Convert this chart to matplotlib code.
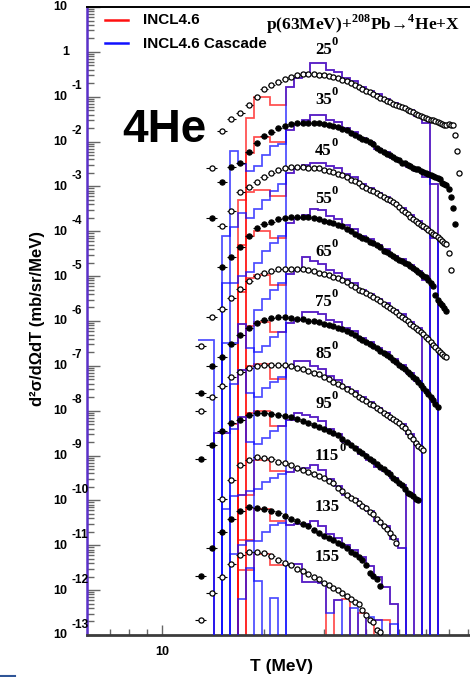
import numpy as np
import matplotlib
matplotlib.use("Agg")
import matplotlib.pyplot as plt
from matplotlib.ticker import LogLocator, NullFormatter
from matplotlib.lines import Line2D

# ---------------------------------------------------------------- data
angles = [25, 35, 45, 55, 65, 75, 85, 95, 115, 135, 155]
open_marker = [True, False, True, False, True, False, True, False, True, False, True]

# measured spectra: first energy (MeV), then log10(d2sigma) at 1 MeV steps (already scaled per angle)
start_25 = 14
data_25 = [-2.59, -1.76, -1.50, -1.36, -1.18, -1.01, -0.83, -0.74, -0.67, -0.61, -0.56, -0.52, -0.50,
           -0.49, -0.49, -0.51, -0.52, -0.54, -0.56, -0.59, -0.62, -0.66, -0.70, -0.74, -0.78, -0.83,
           -0.87, -0.90, -0.93, -0.98, -1.02, -1.06, -1.09, -1.12, -1.16, -1.19, -1.21, -1.23, -1.26,
           -1.29, -1.32, -1.35, -1.38, -1.41, -1.43, -1.45, -1.47, -1.49, -1.51, -1.53, -1.55, -1.57,
           -1.59, -1.61, -1.62, -1.63, -1.61, -1.63, -1.63, -1.85, -2.22, -2.70]
start_35 = 14
data_35 = [-3.71, -2.90, -2.57, -2.48, -2.23, -2.03, -1.88, -1.79, -1.70, -1.65, -1.61, -1.58, -1.58,
           -1.58, -1.58, -1.58, -1.61, -1.63, -1.65, -1.68, -1.71, -1.74, -1.81, -1.86, -1.90, -1.94,
           -1.97, -2.02, -2.06, -2.14, -2.18, -2.23, -2.28, -2.30, -2.34, -2.39, -2.42, -2.47, -2.48,
           -2.52, -2.55, -2.58, -2.61, -2.61, -2.65, -2.68, -2.70, -2.72, -2.74, -2.76, -2.79, -2.81,
           -2.84, -2.92, -2.95, -2.97, -3.05, -3.24, -3.48, -3.84]
start_45 = 15
data_45 = [-3.88, -3.55, -3.12, -3.01, -2.90, -2.79, -2.70, -2.63, -2.59, -2.57, -2.57, -2.57, -2.58,
           -2.59, -2.59, -2.63, -2.66, -2.68, -2.72, -2.75, -2.79, -2.85, -2.89, -2.92, -2.98, -3.03,
           -3.07, -3.10, -3.14, -3.18, -3.23, -3.27, -3.31, -3.35, -3.40, -3.45, -3.53, -3.58, -3.62,
           -3.68, -3.72, -3.76, -3.81, -3.86, -3.89, -3.93, -3.97, -4.01, -4.05, -4.09, -4.13, -4.17,
           -4.21, -4.26, -4.28, -4.48, -4.86]
start_55 = 15
data_55 = [-4.80, -4.57, -4.35, -4.10, -3.93, -3.84, -3.79, -3.72, -3.70, -3.68, -3.68, -3.68, -3.69,
           -3.70, -3.72, -3.76, -3.79, -3.81, -3.86, -3.89, -3.94, -4.00, -4.06, -4.10, -4.15, -4.18,
           -4.23, -4.27, -4.31, -4.36, -4.43, -4.47, -4.51, -4.55, -4.59, -4.63, -4.67, -4.71, -4.74,
           -4.78, -4.82, -4.86, -4.91, -4.95, -4.99, -5.03, -5.09, -5.15, -5.22, -5.42, -5.53, -5.60,
           -5.64, -5.72, -5.78]
start_65 = 13
data_65 = [-6.56, -5.91, -5.73, -5.49, -5.28, -5.11, -5.00, -4.93, -4.88, -4.84, -4.84, -4.84, -4.84,
           -4.84, -4.86, -4.88, -4.93, -4.95, -4.98, -5.02, -5.05, -5.09, -5.14, -5.20, -5.24, -5.30,
           -5.34, -5.38, -5.43, -5.47, -5.51, -5.56, -5.61, -5.66, -5.70, -5.75, -5.80, -5.86, -5.91,
           -5.96, -6.01, -6.07, -6.11, -6.16, -6.21, -6.25, -6.29, -6.36, -6.41, -6.46, -6.53, -6.58,
           -6.64, -6.69, -6.73, -6.78, -6.80]
start_75 = 13
data_75 = [-7.60, -7.00, -6.80, -6.51, -6.31, -6.16, -6.04, -5.98, -5.94, -5.91, -5.91, -5.93, -5.95,
           -5.96, -5.99, -6.01, -6.02, -6.06, -6.09, -6.11, -6.15, -6.18, -6.22, -6.27, -6.31, -6.37,
           -6.42, -6.46, -6.51, -6.56, -6.61, -6.66, -6.71, -6.76, -6.81, -6.86, -6.92, -6.98, -7.03,
           -7.08, -7.13, -7.19, -7.25, -7.30, -7.36, -7.42, -7.50, -7.57, -7.63, -7.70, -7.76, -7.86,
           -7.92]
start_85 = 13
data_85 = [-8.00, -7.69, -7.45, -7.25, -7.14, -7.05, -7.00, -6.98, -6.98, -6.98, -6.98, -7.01, -7.04,
           -7.08, -7.11, -7.15, -7.19, -7.25, -7.30, -7.36, -7.41, -7.46, -7.51, -7.57, -7.63, -7.69,
           -7.73, -7.78, -7.84, -7.88, -7.93, -7.98, -8.04, -8.09, -8.14, -8.19, -8.24, -8.28, -8.33,
           -8.39, -8.47, -8.56, -8.64, -8.72, -8.78, -8.83, -8.87]
start_95 = 13
data_95 = [-9.08, -8.76, -8.45, -8.27, -8.20, -8.09, -8.05, -8.05, -8.07, -8.09, -8.12, -8.14, -8.18,
           -8.23, -8.27, -8.31, -8.36, -8.41, -8.45, -8.50, -8.55, -8.63, -8.70, -8.77, -8.83, -8.89,
           -8.94, -9.02, -9.07, -9.13, -9.19, -9.25, -9.30, -9.36, -9.41, -9.49, -9.55, -9.61, -9.66,
           -9.74, -9.83, -9.86, -9.90, -9.96, -9.99]
start_115 = 15
data_115 = [-9.97, -9.54, -9.21, -9.10, -9.03, -9.05, -9.08, -9.14, -9.16, -9.22, -9.28, -9.33, -9.37,
            -9.41, -9.45, -9.50, -9.56, -9.61, -9.72, -9.80, -9.88, -9.95, -9.99, -10.06, -10.12,
            -10.17, -10.25, -10.30, -10.42, -10.48, -10.57, -10.64, -10.72, -10.81, -10.95]
start_135 = 13
data_135 = [-11.68, -11.06, -10.70, -10.41, -10.23, -10.15, -10.17, -10.19, -10.24, -10.28, -10.35,
            -10.41, -10.46, -10.52, -10.58, -10.65, -10.73, -10.79, -10.84, -10.89, -10.95, -11.00,
            -11.06, -11.14, -11.20, -11.26, -11.33, -11.45, -11.62, -11.68, -11.75, -11.91]
start_155 = 13
data_155 = [-12.66, -12.06, -11.71, -11.42, -11.22, -11.15, -11.15, -11.17, -11.24, -11.33, -11.39,
            -11.45, -11.52, -11.58, -11.64, -11.71, -11.76, -11.83, -11.88, -11.95, -12.00, -12.06,
            -12.12, -12.19, -12.27, -12.31, -12.45, -12.55, -12.66, -12.71, -12.89, -12.93]

# model histograms on logarithmic energy bins (MeV)
bin_edges = [12.77, 13.48, 14.24, 15.03, 15.87, 16.76, 17.69, 18.68, 19.72, 20.82, 21.98, 23.21,
             24.50, 25.87, 27.31, 28.84, 30.45, 32.16, 33.96, 35.86, 37.86, 39.98, 42.20, 44.56,
             47.06, 49.68, 52.46, 55.39, 58.50, 61.76, 65.20, 68.85, 72.70, 76.70, 81.00]

# bins above ~23 MeV, where both model versions agree (log10 contents, None = empty bin)
shared_25 = [-0.78, -0.58, -0.47, -0.25, -0.25, -0.40, -0.45, -0.58, -0.65, -0.78, -0.88, -0.95,
             -1.06, -1.14, -1.22, -1.30, -1.42, -1.59]
shared_35 = [-1.74, -1.61, -1.53, -1.41, -1.41, -1.52, -1.57, -1.69, -1.79, -1.93, -2.01, -2.16,
             -2.24, -2.37, -2.45, -2.57, -2.65, -2.80, -2.95]
shared_45 = [-2.71, -2.60, -2.52, -2.48, -2.48, -2.54, -2.60, -2.73, -2.80, -2.94, -3.03, -3.15,
             -3.23, -3.37, -3.47, -3.64, -3.78, -3.96, -4.16]
shared_55 = [-3.81, -3.71, -3.63, -3.50, -3.53, -3.67, -3.73, -3.86, -3.95, -4.10, -4.18, -4.30,
             -4.39, -4.54, -4.62, -4.76, -4.89, -5.08]
shared_65 = [-4.96, -4.87, -4.57, -4.66, -4.73, -4.87, -4.93, -5.07, -5.15, -5.30, -5.39, -5.52,
             -5.60, -5.75, -5.85, -6.02, -6.16]
shared_75 = [-6.05, -5.98, -5.80, -5.79, -5.84, -5.98, -6.03, -6.16, -6.23, -6.38, -6.47, -6.61,
             -6.70, -6.84, -6.97, -7.15, -7.33]
shared_85 = [-7.00, -6.89, -6.89, -7.00, -7.08, -7.22, -7.31, -7.47, -7.55, -7.70, -7.81, -7.95,
             -8.04, -8.20, -8.29, -8.52]
shared_95 = [-8.20, -8.05, -8.10, -8.14, -8.23, -8.40, -8.52, -8.70, -8.80, -8.97, -9.09, -9.25,
             -9.35, -9.51, -9.65]
shared_115 = [-9.36, -9.30, -9.28, -9.22, -9.33, -9.53, -9.68, -9.87, -9.96, -10.12, -10.24, -10.45,
              -10.58, -10.85, -11.05]
shared_135 = [-10.54, -10.53, -10.53, -10.46, -10.58, -10.74, -10.83, -10.99, -11.10, -11.27, -11.46,
              -11.70, -11.93, -12.30]

# 155 deg: the two model versions fluctuate separately at high energy
red_high_155 = [-11.45, -11.42, -11.82, -11.82, -11.85, None, -12.22, -12.20, None, -12.50, None,
                -12.66, -12.66]
blue_high_155 = [-11.45, -11.42, -11.82, -11.82, -11.85, -12.51, -12.22, None, -12.40, None, -12.60,
                 -12.66, None, -12.75]

# low-energy bins: first filled bin index, then log10 contents up to 23 MeV (None = empty bin)
red_first_25, red_low_25 = 6, [-1.47, -1.00, -1.00, -1.18, -1.18]
blue_first_25, blue_low_25 = 11, []
red_first_35, red_low_35 = 6, [-2.25, -1.90, -1.90, -2.02, -2.02]
blue_first_35, blue_low_35 = 4, [-2.21, -2.50, -2.65, -2.55, -2.30, -2.10, -2.05]
red_first_45, red_low_45 = 5, [-3.30, -3.12, -3.08, -3.08, -3.22, -3.22]
blue_first_45, blue_low_45 = 3, [-4.10, -3.90, -3.60, -3.70, -3.50, -3.30, -3.10, -2.95]
red_first_55, red_low_55 = 5, [-4.30, -4.10, -4.00, -4.00, -4.15, -4.15]
blue_first_55, blue_low_55 = 3, [-5.15, -5.15, -5.00, -4.90, -4.70, -4.45, -4.25, -4.10]
red_first_65, red_low_65 = 5, [-5.35, -5.05, -4.98, -4.98, -5.20, -5.20]
blue_first_65, blue_low_65 = 0, [-6.42, -6.42, None, None, None, None, None, -5.75, -5.50, -5.30, -5.15]
red_first_75, red_low_75 = 5, [-6.07, -6.12, -6.02, -6.02, -6.25, -6.25]
blue_first_75, blue_low_75 = 3, [-6.49, -6.49, -6.07, -6.60, -6.70, -6.55, -6.35, -6.25]
red_first_85, red_low_85 = 5, [-7.10, -7.00, -6.95, -6.95, -7.30, -7.30]
blue_first_85, blue_low_85 = 4, [-7.40, -7.10, -7.60, -7.70, -7.50, -7.35, -7.25]
red_first_95, red_low_95 = 2, [-8.50, -8.50, -8.30, -8.15, -8.05, -8.00, -8.00, -8.35, -8.35]
blue_first_95, blue_low_95 = 2, [-8.50, -8.50, -8.40, -8.15, -8.70, -8.75, -8.60, -8.45, -8.35]
red_first_115, red_low_115 = 5, [-9.88, -9.88, -9.10, -9.10, -9.35, -9.35]
blue_first_115, blue_low_115 = 3, [-10.20, -9.90, -9.88, -9.80, -9.75, -9.60, -9.50, -9.40]
red_first_135, red_low_135 = 5, [-10.88, -10.88, -10.20, -10.20, -10.45, -10.45]
blue_first_135, blue_low_135 = 4, [-11.20, -11.00, -10.90, -10.90, -10.70, -10.55, -10.50]
red_first_155, red_low_155 = 5, [-11.55, -11.55, -11.20, -11.20, -11.45, -11.45]
blue_first_155, blue_low_155 = 5, [-12.20, -11.50, -11.80, None, -12.17, None]

spectra = [(start_25, data_25), (start_35, data_35), (start_45, data_45), (start_55, data_55),
           (start_65, data_65), (start_75, data_75), (start_85, data_85), (start_95, data_95),
           (start_115, data_115), (start_135, data_135), (start_155, data_155)]
shared_common = [shared_25, shared_35, shared_45, shared_55, shared_65, shared_75, shared_85,
                 shared_95, shared_115, shared_135]
red_high = shared_common + [red_high_155]
blue_high = shared_common + [blue_high_155]
red_low = [(red_first_25, red_low_25), (red_first_35, red_low_35), (red_first_45, red_low_45),
           (red_first_55, red_low_55), (red_first_65, red_low_65), (red_first_75, red_low_75),
           (red_first_85, red_low_85), (red_first_95, red_low_95), (red_first_115, red_low_115),
           (red_first_135, red_low_135), (red_first_155, red_low_155)]
blue_low = [(blue_first_25, blue_low_25), (blue_first_35, blue_low_35), (blue_first_45, blue_low_45),
            (blue_first_55, blue_low_55), (blue_first_65, blue_low_65), (blue_first_75, blue_low_75),
            (blue_first_85, blue_low_85), (blue_first_95, blue_low_95), (blue_first_115, blue_low_115),
            (blue_first_135, blue_low_135), (blue_first_155, blue_low_155)]

# ---------------------------------------------------------------- figure
W, H = 470, 677
fig = plt.figure(figsize=(W / 100, H / 100), dpi=100)
fig.patch.set_facecolor("white")


def fpos(x, y):
    return x / W, 1 - y / H


ax_left, ax_right, ax_top, ax_bot = 87, 470, 7, 635
ax = fig.add_axes([ax_left / W, 1 - ax_bot / H, (ax_right - ax_left) / W, (ax_bot - ax_top) / H])
ax.set_xscale("log")
ax.set_yscale("log")
ax.set_xlim(6, 81)
ax.set_ylim(1e-13, 10)

edges = np.array(bin_edges)
nbins = len(edges) - 1
EMPTY = 1e-30


def hist_contents(first, low, high):
    vals = list(low) + list(high)
    c = np.full(nbins, EMPTY)
    for i, v in enumerate(vals):
        if v is not None:
            c[first + i] = 10.0 ** v
    return c


RED = "#ff1010"
BLUE = "#1010ff"
for (first, low), high in zip(red_low, red_high):
    ax.stairs(hist_contents(first, low, high), edges, baseline=None, color=RED, lw=1.25,
              alpha=0.75, zorder=2)
for (first, low), high in zip(blue_low, blue_high):
    ax.stairs(hist_contents(first, low, high), edges, baseline=None, color=BLUE, lw=1.25,
              alpha=0.75, zorder=3)

for (start, vals), is_open in zip(spectra, open_marker):
    t = np.arange(start, start + len(vals))
    y = 10.0 ** np.array(vals)
    ax.errorbar(t, y, xerr=0.5, fmt="o", ms=3.7, mew=0.9, mec="black",
                mfc="white" if is_open else "black", ecolor="black", elinewidth=0.8,
                capsize=0, zorder=5)

# axes frame and ticks
ax.spines["right"].set_visible(False)
ax.spines["top"].set_color("black")
ax.spines["top"].set_linewidth(1.4)
ax.spines["bottom"].set_color("#3c3c3c")
ax.spines["bottom"].set_linewidth(2.0)
ax.spines["left"].set_color("#5a30c8")
ax.spines["left"].set_linewidth(1.8)

ax.yaxis.set_major_locator(LogLocator(base=10, numticks=30))
ax.yaxis.set_minor_locator(LogLocator(base=10, subs=np.arange(2, 10), numticks=300))
ax.xaxis.set_major_locator(LogLocator(base=10, numticks=10))
ax.xaxis.set_minor_locator(LogLocator(base=10, subs=np.arange(2, 10), numticks=100))
ax.yaxis.set_minor_formatter(NullFormatter())
ax.xaxis.set_minor_formatter(NullFormatter())
ax.tick_params(axis="both", which="both", direction="in", labelleft=False, labelbottom=False,
               right=False, top=False, color="#666666", width=1.0)
ax.tick_params(axis="y", which="major", length=9)
ax.tick_params(axis="y", which="minor", length=5)
ax.tick_params(axis="x", which="major", length=7)
ax.tick_params(axis="x", which="minor", length=4)

# y tick labels in "10^n" style
LBL = dict(family="Liberation Sans", weight="bold", color="black")
for n in range(1, -14, -1):
    ypix = ax_top + (1 - n) * (ax_bot - ax_top) / 14.0
    if n == 0:
        fig.text(*fpos(69, ypix + 0.5), "1", ha="right", va="center", fontsize=9, **LBL)
    else:
        fig.text(*fpos(67, ypix + 0.5), "10", ha="right", va="center", fontsize=9, **LBL)
        if n != 1:
            fig.text(*fpos(71, ypix - 10.5), str(n), ha="left", va="center", fontsize=8.5, **LBL)

fig.text(*fpos(162, 652), "10", ha="center", va="center", fontsize=9, **LBL)
fig.text(*fpos(282, 666), "T (MeV)", ha="center", va="center", fontsize=12.5, **LBL)
fig.text(*fpos(38, 318), "d\u00b2\u03c3/d\u03a9dT (mb/sr/MeV)", ha="center", va="center",
         rotation=90, fontsize=12, **LBL)

# legend
for yy, col, lab in ((20, RED, "INCL4.6"), (43, BLUE, "INCL4.6 Cascade")):
    x0, y0 = fpos(105, yy)
    x1, _ = fpos(128, yy)
    fig.add_artist(Line2D([x0, x1], [y0, y0], color=col, lw=1.8, transform=fig.transFigure))
    fig.text(*fpos(143, yy + 0.5), lab, ha="left", va="center", fontsize=11, **LBL)

fig.text(*fpos(122, 130), "4He", ha="left", va="center", fontsize=33, **LBL)

# reaction title and angle labels
plt.rcParams["mathtext.fontset"] = "custom"
plt.rcParams["mathtext.rm"] = "Liberation Serif:bold"
plt.rcParams["mathtext.bf"] = "Liberation Serif:bold"
SER = dict(family="Liberation Serif", weight="bold", color="black")
fig.text(*fpos(266, 24), "p(63MeV)+$^{208}$Pb\u2192$^{4}$He+X", ha="left", va="center",
         fontsize=12.5, **SER)

label_y = [50, 100, 151, 199, 252, 302, 354, 404, 456, 507, 557]
for ang, yy in zip(angles, label_y):
    fig.text(*fpos(315, yy), str(ang), ha="left", va="center", fontsize=12, **SER)
    if ang <= 115:
        xr = 331 if ang < 100 else 339
        fig.text(*fpos(xr, yy - 8), "0", ha="left", va="center", fontsize=9, **SER)

# small underline mark at lower left
fig.add_artist(Line2D([0, 15 / W], [1 - 676 / H, 1 - 676 / H], color="#2f5597", lw=1.5,
                      transform=fig.transFigure))

fig.savefig("out.png", dpi=100, facecolor="white")
